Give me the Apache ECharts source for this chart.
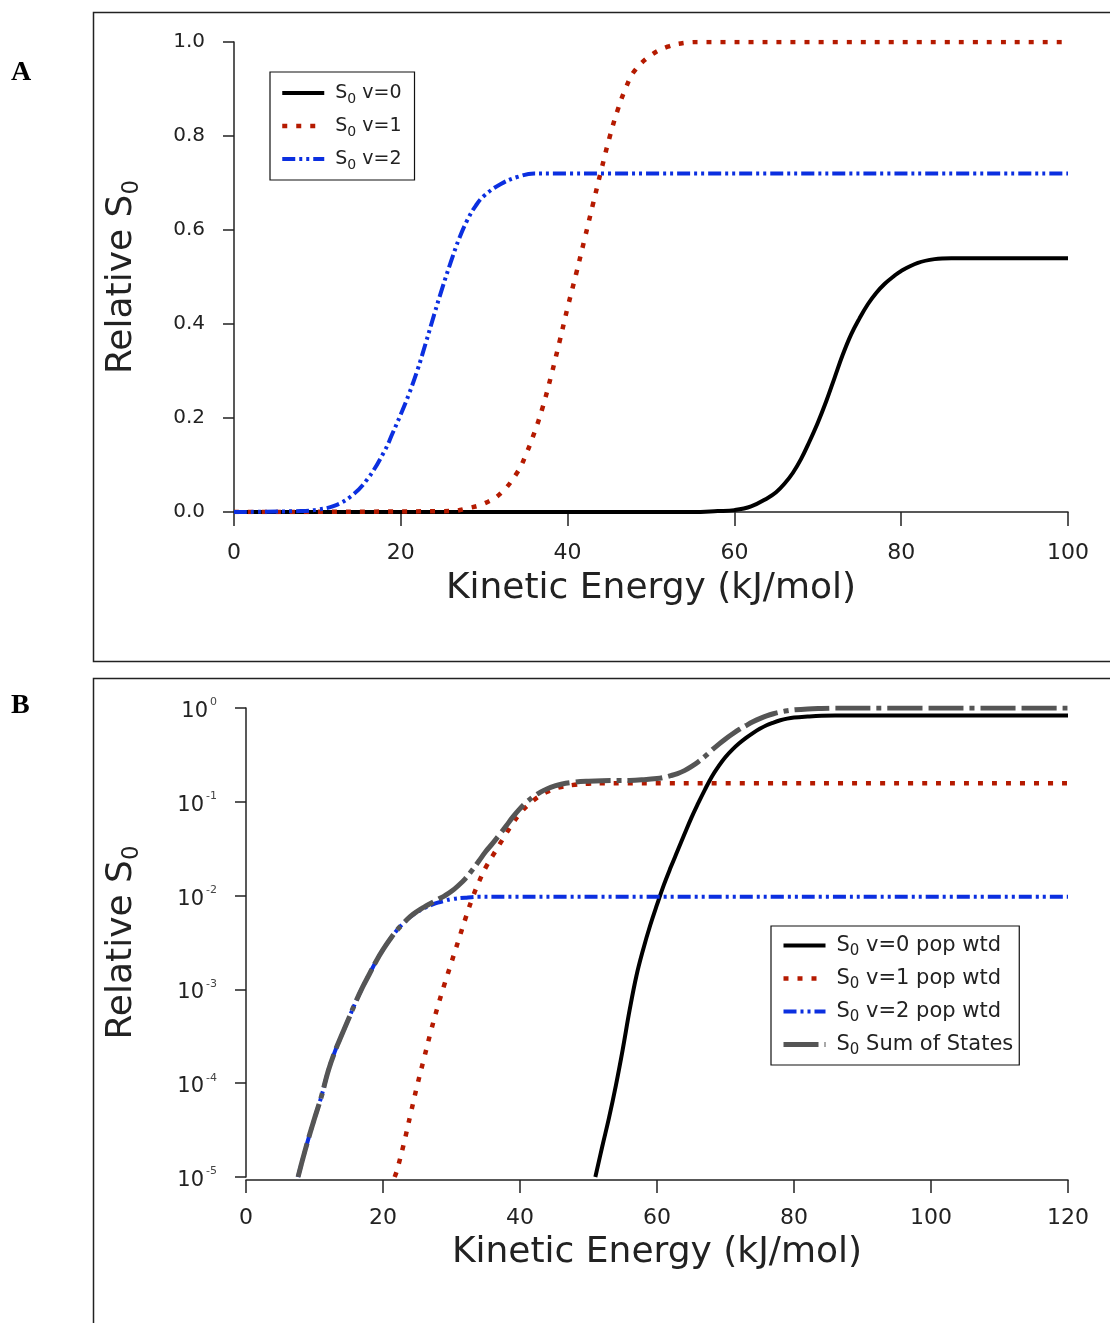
<!DOCTYPE html>
<html><head><meta charset="utf-8">
<script src="https://cdn.jsdelivr.net/npm/echarts@6/dist/echarts.min.js"></script>
<style>html,body{margin:0;padding:0;background:#fff}#c{width:1110px;height:1323px}</style>
</head><body><div id="c"></div>
<script>
// ---------- Panel A data (Kinetic Energy kJ/mol -> Relative S0) ----------
const energyA_v0 = [0,55,58,60,62,64,65,66,67,68,69,70,71,72,73,74,75,76,77,78,79,80,82,84,86,100];
const relA_v0    = [0,0,0.002,0.004,0.012,0.03,0.042,0.06,0.083,0.113,0.15,0.19,0.235,0.285,0.335,0.378,0.412,0.442,0.466,0.485,0.5,0.513,0.53,0.538,0.54,0.54];
const energyA_v1 = [0,26,28,30,32,34,35,36,37,38,39,40,41,42,43,44,45,46,47,48,50,52,54,56,100];
const relA_v1    = [0,0.002,0.008,0.018,0.04,0.085,0.122,0.168,0.222,0.288,0.36,0.435,0.505,0.578,0.652,0.725,0.795,0.855,0.903,0.938,0.972,0.99,0.998,1.0,1.0];
const energyA_v2 = [0,8,10,12,14,16,18,19,20,21,22,23,24,25,26,27,28,29,30,32,34,36,100];
const relA_v2    = [0,0.002,0.005,0.013,0.033,0.07,0.128,0.167,0.208,0.252,0.302,0.36,0.42,0.478,0.532,0.582,0.622,0.652,0.673,0.698,0.713,0.72,0.72];

// ---------- Panel B data (population weighted, log scale) ----------
const energyB_v0 = [51,52,53,54,55,56,57,58,59,60,61,62,63,64,65,66,67,68,69,70,71,72,73,74,75,76,77,78,79,80,82,84,86,120];
const relB_v0    = [1e-5,2.1e-5,4.3e-5,9.5e-5,2.3e-4,6e-4,1.4e-3,2.7e-3,4.8e-3,8e-3,1.3e-2,2.0e-2,3.0e-2,4.5e-2,6.7e-2,9.6e-2,0.135,0.185,0.24,0.30,0.36,0.42,0.48,0.54,0.60,0.655,0.70,0.74,0.77,0.79,0.81,0.825,0.83,0.83];
const energyB_v1 = [21.7,22,23,24,25,26,27,28,29,30,31,32,33,34,35,36,37,38,39,40,41,42,43,44,45,46,48,50,52,120];
const relB_v1    = [1e-5,1.15e-5,2.2e-5,4.6e-5,9.5e-5,1.85e-4,3.6e-4,6.6e-4,1.15e-3,1.95e-3,3.3e-3,5.6e-3,9.2e-3,1.4e-2,2e-2,2.65e-2,3.5e-2,4.6e-2,6e-2,7.5e-2,9e-2,0.104,0.117,0.128,0.137,0.144,0.152,0.156,0.158,0.158];
const energyB_v2 = [7.6,8,9,10,11,12,13,14,15,16,17,18,19,20,21,22,23,24,25,26,27,28,29,30,32,34,120];
const relB_v2    = [1e-5,1.3e-5,2.4e-5,4.2e-5,7.2e-5,1.35e-4,2.2e-4,3.3e-4,4.9e-4,7.3e-4,1.05e-3,1.45e-3,2e-3,2.65e-3,3.4e-3,4.25e-3,5.1e-3,5.95e-3,6.7e-3,7.35e-3,7.9e-3,8.4e-3,8.8e-3,9.15e-3,9.5e-3,9.7e-3,9.7e-3];
const energyB_sum = [7.6,8,9,10,11,12,13,14,15,16,17,18,19,20,21,22,23,24,25,26,27,28,29,30,31,32,33,34,35,36,37,38,39,40,41,42,43,44,45,46,48,50,52,56,58,60,61,62,63,64,65,66,67,68,69,70,71,72,73,74,75,76,77,78,79,80,82,84,86,120];
const relB_sum    = [1e-5,1.3e-5,2.4e-5,4.2e-5,7.2e-5,1.35e-4,2.2e-4,3.3e-4,4.9e-4,7.3e-4,1.05e-3,1.45e-3,2e-3,2.65e-3,3.4e-3,4.25e-3,5.1e-3,6.0e-3,6.8e-3,7.55e-3,8.3e-3,9.1e-3,9.95e-3,1.11e-2,1.28e-2,1.51e-2,1.86e-2,2.34e-2,2.95e-2,3.6e-2,4.45e-2,5.55e-2,6.95e-2,8.45e-2,9.95e-2,0.114,0.127,0.138,0.147,0.154,0.162,0.166,0.168,0.169,0.172,0.177,0.182,0.19,0.2,0.215,0.237,0.266,0.305,0.355,0.41,0.468,0.528,0.59,0.65,0.712,0.77,0.823,0.868,0.905,0.935,0.955,0.978,0.99,0.998,0.998];

// ---------- Labels ----------
const namesA = ['S0 v=0','S0 v=1','S0 v=2'];
const namesB = ['S0 v=0 pop wtd','S0 v=1 pop wtd','S0 v=2 pop wtd','S0 Sum of States'];
const xTitle = 'Kinetic Energy (kJ/mol)';
const yTitle = 'Relative S';
const yTickExpB = [0,-1,-2,-3,-4,-5];

const FONT = '"DejaVu Sans", Verdana, sans-serif';
const zip = (xs, ys) => xs.map((x, i) => [x, ys[i]]);
const ink = '#222';

const legendFmt = n => '{sp|}{t|S}{sub|0}{t|' + n.slice(2) + '}';
const legendRich = (fs) => ({
  sp: {width: 6},
  t: {fontSize: fs, lineHeight: 20, color: ink, fontFamily: FONT},
  sub: {fontSize: Math.round(fs*0.72), lineHeight: 12, padding: [12,0,0,0], color: ink, fontFamily: FONT}
});
const nameRich = {
  t: {fontSize: 36, lineHeight: 40, color: ink, fontFamily: FONT},
  sub: {fontSize: 23, lineHeight: 23, padding: [20,0,0,0], color: ink, fontFamily: FONT}
};

const axisCommon = {
  axisLine: {show: true, lineStyle: {color: ink, width: 1.5}},
  axisTick: {show: true, inside: false, lineStyle: {color: ink, width: 1.5}},
  splitLine: {show: false},
  nameLocation: 'middle'
};

const styles = {
  v0: {color: '#000000', width: 4, type: 'solid'},
  v1: {color: '#b51a00', width: 4.5, type: [5, 9]},
  v2: {color: '#0b2fe0', width: 4, type: [13, 4, 3, 4, 3, 4]},
  sum: {color: '#555555', width: 5, type: [35, 6, 35, 6, 5, 6]}
};
function mkSeries(name, data, st, idx) {
  return {
    type: 'line', name, data, xAxisIndex: idx, yAxisIndex: idx,
    showSymbol: false, symbol: 'none', smooth: 0.4,
    lineStyle: {color: st.color, width: st.width, type: st.type, cap: 'butt', join: 'round'},
    itemStyle: {color: st.color},
    emphasis: {disabled: true}, silent: true
  };
}
const legendCommon = {
  orient: 'vertical', itemWidth: 42, itemHeight: 14,
  borderColor: '#111', borderWidth: 1.2, backgroundColor: '#fff',
  selectedMode: false, formatter: legendFmt,
  itemStyle: {opacity: 0, borderWidth: 0},
  lineStyle: {width: 'inherit', type: 'inherit', color: 'inherit', cap: 'butt'}
};

const chart = echarts.init(document.getElementById('c'), null, {renderer: 'canvas'});
chart.setOption({
  animation: false,
  backgroundColor: '#ffffff',
  graphic: [
    {type: 'rect', shape: {x: 93.5, y: 12.5, width: 1100, height: 649}, style: {fill: 'none', stroke: '#222', lineWidth: 1.5}, silent: true},
    {type: 'rect', shape: {x: 93.5, y: 678.5, width: 1100, height: 700}, style: {fill: 'none', stroke: '#222', lineWidth: 1.5}, silent: true},
    {type: 'text', left: 11, top: 59, style: {text: 'A', font: 'bold 28px "Liberation Serif", "DejaVu Serif", serif', fill: '#000'}},
    {type: 'text', left: 11, top: 692, style: {text: 'B', font: 'bold 28px "Liberation Serif", "DejaVu Serif", serif', fill: '#000'}}
  ],
  grid: [
    {left: 234, top: 42, width: 834, height: 470},
    {left: 246, top: 708, width: 822, height: 469}
  ],
  xAxis: [
    Object.assign({}, axisCommon, {
      type: 'value', gridIndex: 0, min: 0, max: 100, interval: 20, offset: 4,
      axisTick: Object.assign({}, axisCommon.axisTick, {length: 14}),
      axisLabel: {margin: 26, fontSize: 22, color: ink, fontFamily: FONT},
      name: xTitle, nameGap: 55, nameTextStyle: {fontSize: 36, color: ink, fontFamily: FONT}
    }),
    Object.assign({}, axisCommon, {
      type: 'value', gridIndex: 1, min: 0, max: 120, interval: 20, offset: 3,
      axisTick: Object.assign({}, axisCommon.axisTick, {length: 13}),
      axisLabel: {margin: 27, fontSize: 22, color: ink, fontFamily: FONT},
      name: xTitle, nameGap: 55, nameTextStyle: {fontSize: 36, color: ink, fontFamily: FONT}
    })
  ],
  yAxis: [
    Object.assign({}, axisCommon, {
      type: 'value', gridIndex: 0, min: 0, max: 1, interval: 0.2, offset: 5,
      axisTick: Object.assign({}, axisCommon.axisTick, {length: 11}),
      axisLabel: {margin: 24, fontSize: 20, color: ink, fontFamily: FONT, formatter: v => v.toFixed(1)},
      name: '{t|' + yTitle + '}{sub|0}', nameGap: 87, nameRotate: 90,
      nameTextStyle: {rich: nameRich}
    }),
    Object.assign({}, axisCommon, {
      type: 'log', logBase: 10, gridIndex: 1, min: 1e-5, max: 1, offset: 4,
      axisTick: Object.assign({}, axisCommon.axisTick, {length: 11}),
      minorTick: {show: false},
      axisLabel: {
        margin: 25, color: ink,
        formatter: v => {
          const e = Math.round(Math.log10(v));
          const ex = yTickExpB.find(k => k === e);
          return '{t|10}{sup|' + ex + '}';
        },
        rich: {
          t: {fontSize: 21, lineHeight: 22, padding: [7,0,0,0], color: ink, fontFamily: FONT},
          sup: {fontSize: 11, lineHeight: 11, verticalAlign: 'top', padding: [0,0,0,2], color: '#444', fontFamily: FONT}
        }
      },
      name: '{t|' + yTitle + '}{sub|0}', nameGap: 100, nameRotate: 90,
      nameTextStyle: {rich: nameRich}
    })
  ],
  legend: [
    Object.assign({}, legendCommon, {
      data: namesA, left: 270, top: 72, itemGap: 7, padding: [8, 13, 8, 10],
      textStyle: {rich: legendRich(19)}
    }),
    Object.assign({}, legendCommon, {
      data: namesB, left: 771, top: 926, itemGap: 6, padding: [6, 6, 7, 10],
      textStyle: {rich: legendRich(21)}
    })
  ],
  series: [
    mkSeries(namesA[0], zip(energyA_v0, relA_v0), styles.v0, 0),
    mkSeries(namesA[1], zip(energyA_v1, relA_v1), styles.v1, 0),
    mkSeries(namesA[2], zip(energyA_v2, relA_v2), styles.v2, 0),
    mkSeries(namesB[0], zip(energyB_v0, relB_v0), styles.v0, 1),
    mkSeries(namesB[1], zip(energyB_v1, relB_v1), styles.v1, 1),
    mkSeries(namesB[2], zip(energyB_v2, relB_v2), styles.v2, 1),
    mkSeries(namesB[3], zip(energyB_sum, relB_sum), styles.sum, 1)
  ]
});
</script>
</body></html>
